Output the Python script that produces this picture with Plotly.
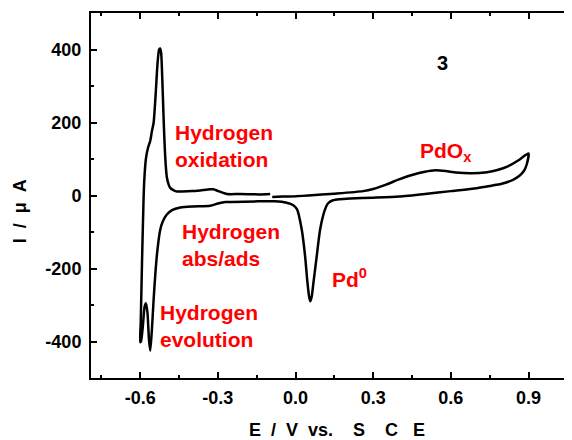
import plotly.graph_objects as go

# cyclic voltammogram, scan starts at -0.09 V going positive
potential = [
    -0.090, -0.050, 0.000, 0.050, 0.150, 0.261, 0.300, 0.350, 0.400, 0.450,
    0.500, 0.540, 0.580, 0.620, 0.680, 0.740, 0.780, 0.820, 0.860, 0.900,
    0.893, 0.882, 0.865, 0.840, 0.800, 0.750, 0.700, 0.600, 0.500, 0.400,
    0.300, 0.211, 0.170, 0.145,
    0.125, 0.114, 0.095, 0.082, 0.069, 0.063, 0.057, 0.052, 0.045, 0.037,
    0.024, 0.006, -0.010, -0.034, -0.080, -0.140, -0.270, -0.300, -0.330,
    -0.400, -0.445, -0.477, -0.497, -0.512, -0.523, -0.535, -0.542, -0.548,
    -0.555, -0.561, -0.566, -0.572, -0.578, -0.583, -0.590, -0.597, -0.600,
    -0.598, -0.593, -0.587, -0.584, -0.578, -0.570, -0.561, -0.555, -0.548,
    -0.540, -0.533, -0.527, -0.523, -0.519, -0.514, -0.509, -0.505, -0.501,
    -0.497, -0.490, -0.484, -0.470, -0.458, -0.400, -0.368, -0.330, -0.317,
    -0.298, -0.265, -0.214, -0.137, -0.098,
]
current = [
    -4, -3, -2, 0, 5, 12, 18, 30, 44, 56,
    65, 69, 67, 63, 61, 64, 70, 80, 96, 115,
    85, 67, 54, 43, 33, 26, 20, 12, 4, -3,
    -6, -8, -10, -13,
    -22, -38, -93, -166, -240, -275, -290, -275, -230, -166,
    -93, -38, -26, -20, -16, -16, -18, -22, -28,
    -30, -33, -40, -52, -70, -95, -160, -220, -284,
    -370, -425, -395, -320, -295, -305, -360, -400, -402,
    -350, -184, -11, 44, 100, 130, 150, 175, 200,
    280, 362, 400, 403, 390, 307, 200, 130, 80,
    50, 30, 21, 14, 11, 12, 14, 17, 17,
    12, 4, 4, 3, 4,
]

x_tickvals = [-0.6, -0.3, 0.0, 0.3, 0.6, 0.9]
x_ticktext = ["-0.6", "-0.3", "0.0", "0.3", "0.6", "0.9"]
y_tickvals = [-400, -200, 0, 200, 400]
y_ticktext = ["-400", "-200", "0", "200", "400"]

FONT = "Liberation Sans, Arial, sans-serif"
RED = "#ff0000"

fig = go.Figure()
fig.add_trace(go.Scatter(x=potential, y=current, mode="lines",
                         line=dict(color="black", width=2.5, shape="spline", smoothing=0.6),
                         showlegend=False, hoverinfo="skip"))

axis_common = dict(showgrid=False, zeroline=False, showline=True, linecolor="black",
                   linewidth=2, ticks="inside", tickcolor="black", tickwidth=1.5,
                   ticklen=6,
                   tickfont=dict(family=FONT, size=18, color="black", weight="bold"))

fig.update_xaxes(range=[-0.79, 1.068], tickmode="array", tickvals=x_tickvals,
                 ticktext=x_ticktext, mirror="ticks", ticklabelstandoff=2,
                 minor=dict(ticks="inside", ticklen=3, dtick=0.15, tick0=-0.75,
                            tickcolor="black", tickwidth=1.5),
                 **axis_common)
fig.update_yaxes(range=[-500, 500], tickmode="array", tickvals=y_tickvals,
                 ticktext=y_ticktext, mirror=False, ticklabelstandoff=4,
                 minor=dict(ticks="inside", ticklen=3, dtick=100, tick0=-500,
                            tickcolor="black", tickwidth=1.5),
                 **axis_common)

def label(x, y, text, color=RED, size=21, anchor="left"):
    fig.add_annotation(x=x, y=y, xref="x", yref="y", text=text, showarrow=False,
                       xanchor=anchor, yanchor="middle", align="left",
                       font=dict(family=FONT, size=size, color=color, weight="bold"))

label(-0.474, 137, "Hydrogen<br>oxidation")
label(-0.445, -136, "Hydrogen<br>abs/ads")
label(-0.533, -358, "Hydrogen<br>evolution")
label(0.134, -225, "Pd<sup>0</sup>")
label(0.474, 120, "PdO<sub>x</sub>")
label(0.568, 362, "3", color="black", size=20, anchor="center")

# axis titles (wide letter spacing as in the original)
fig.add_annotation(x=0.511, y=-0.142, xref="paper", yref="paper", showarrow=False,
                   text="E\u00a0\u00a0/\u00a0\u00a0V\u00a0\u00a0vs.\u00a0\u00a0\u00a0\u00a0S\u00a0\u00a0\u00a0\u00a0C\u00a0\u00a0\u00a0E",
                   xanchor="center", yanchor="middle",
                   font=dict(family=FONT, size=18, color="black", weight="bold"))
fig.add_annotation(x=-0.1476, y=0.457, xref="paper", yref="paper", showarrow=False,
                   text="I\u00a0\u00a0/\u00a0\u00a0\u03bc\u00a0\u00a0A", textangle=-90,
                   xanchor="center", yanchor="middle",
                   font=dict(family=FONT, size=18, color="black", weight="bold"))

# page body keeps an 8px margin, so the figure is drawn 8px smaller
fig.update_layout(width=564, height=432, margin=dict(l=83, r=0, t=5, b=62),
                  plot_bgcolor="white", paper_bgcolor="white")

fig.write_html("out.html")
